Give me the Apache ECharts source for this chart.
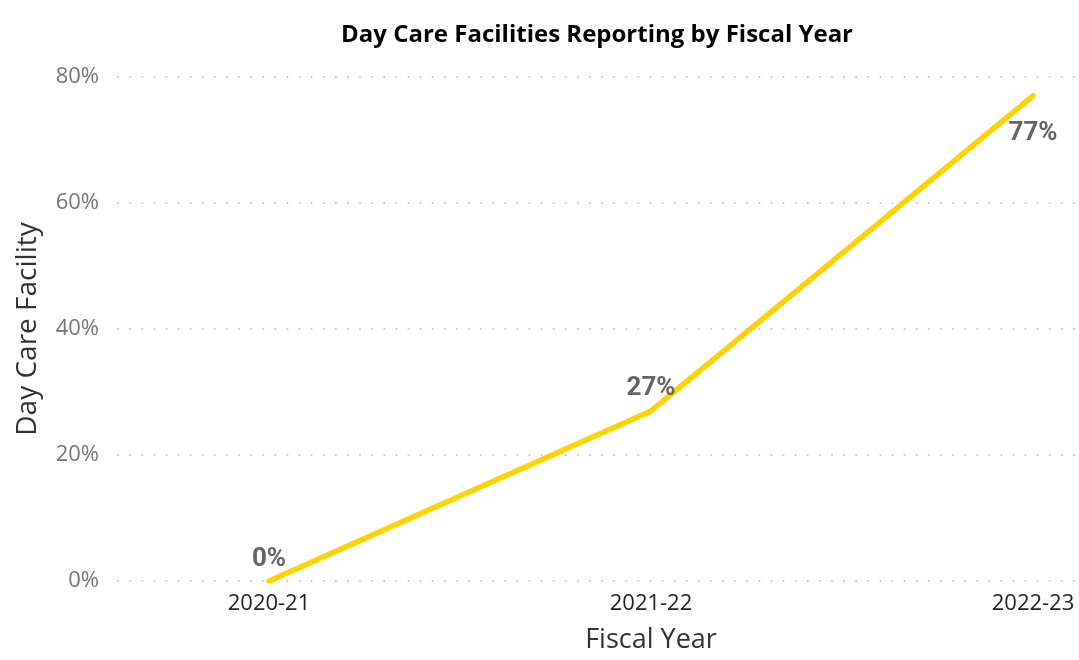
<!DOCTYPE html>
<html>
<head>
<meta charset="utf-8">
<script src="https://cdn.jsdelivr.net/npm/echarts@6/dist/echarts.min.js"></script>
<style>
  html, body { margin: 0; padding: 0; background: #fff; }
  #chart { width: 1079px; height: 660px; }
</style>
</head>
<body>
<div id="chart"></div>
<script>
// Share of day care facilities reporting, by fiscal year
const fiscalYears = ['2020-21', '2021-22', '2022-23'];
const reportingShare = [0.0, 0.27, 0.77];
const labelPlacement = ['top', 'top', 'bottom'];
const yMin = 0, yMax = 0.8, yStep = 0.2;

const pct = v => Math.round(v * 100) + '%';

const chart = echarts.init(document.getElementById('chart'));
chart.setOption({
  backgroundColor: '#ffffff',
  title: {
    text: 'Day Care Facilities Reporting by Fiscal Year',
    left: 592, top: 18, textAlign: 'center',
    textStyle: { fontFamily: 'Open Sans', fontWeight: 'bold', fontSize: 24, color: '#000' }
  },
  grid: [
    // gridline / y-label grid
    { left: 118, right: 4, top: 77, bottom: 79 },
    // line grid: first and last category sit on the edges
    { left: 269, right: 46, top: 77, bottom: 79 }
  ],
  xAxis: [
    { gridIndex: 0, type: 'category', data: fiscalYears, show: false },
    {
      gridIndex: 1, type: 'category', data: fiscalYears, boundaryGap: false,
      axisLine: { show: false }, axisTick: { show: false },
      axisLabel: { color: '#252423', fontFamily: 'Open Sans', fontSize: 22, margin: 12 },
      name: 'Fiscal Year', nameLocation: 'middle', nameGap: 46,
      nameTextStyle: { color: '#333', fontFamily: 'Open Sans', fontSize: 27 }
    }
  ],
  yAxis: [
    {
      gridIndex: 0, type: 'value', min: yMin, max: yMax, interval: yStep,
      axisLine: { show: false }, axisTick: { show: false },
      axisLabel: { formatter: pct, color: '#777', fontFamily: 'Open Sans', fontSize: 22, margin: 19 },
      splitLine: { show: true, lineStyle: { color: '#c8c8c8', width: 2, type: [0.1, 12], cap: 'round' } },
      name: 'Day Care Facility', nameLocation: 'middle', nameGap: 76,
      nameTextStyle: { color: '#333', fontFamily: 'Open Sans', fontSize: 28 }
    },
    {
      gridIndex: 1, type: 'value', min: yMin, max: yMax, interval: yStep,
      show: false, splitLine: { show: false }
    }
  ],
  series: [{
    type: 'line',
    xAxisIndex: 1, yAxisIndex: 1,
    data: reportingShare.map((v, i) => ({
      value: v,
      label: { position: labelPlacement[i], distance: labelPlacement[i] === 'bottom' ? 23 : 7 }
    })),
    symbol: 'circle',
    symbolSize: 4,
    showSymbol: true,
    itemStyle: { color: '#FFD200' },
    lineStyle: { color: '#FFD200', width: 5.5, cap: 'round', join: 'round' },
    label: {
      show: true,
      formatter: p => pct(p.value),
      color: '#666', fontFamily: 'Roboto', fontWeight: 'bold', fontSize: 26
    },
    silent: true,
    animation: false
  }],
  animation: false
});
</script>
</body>
</html>
